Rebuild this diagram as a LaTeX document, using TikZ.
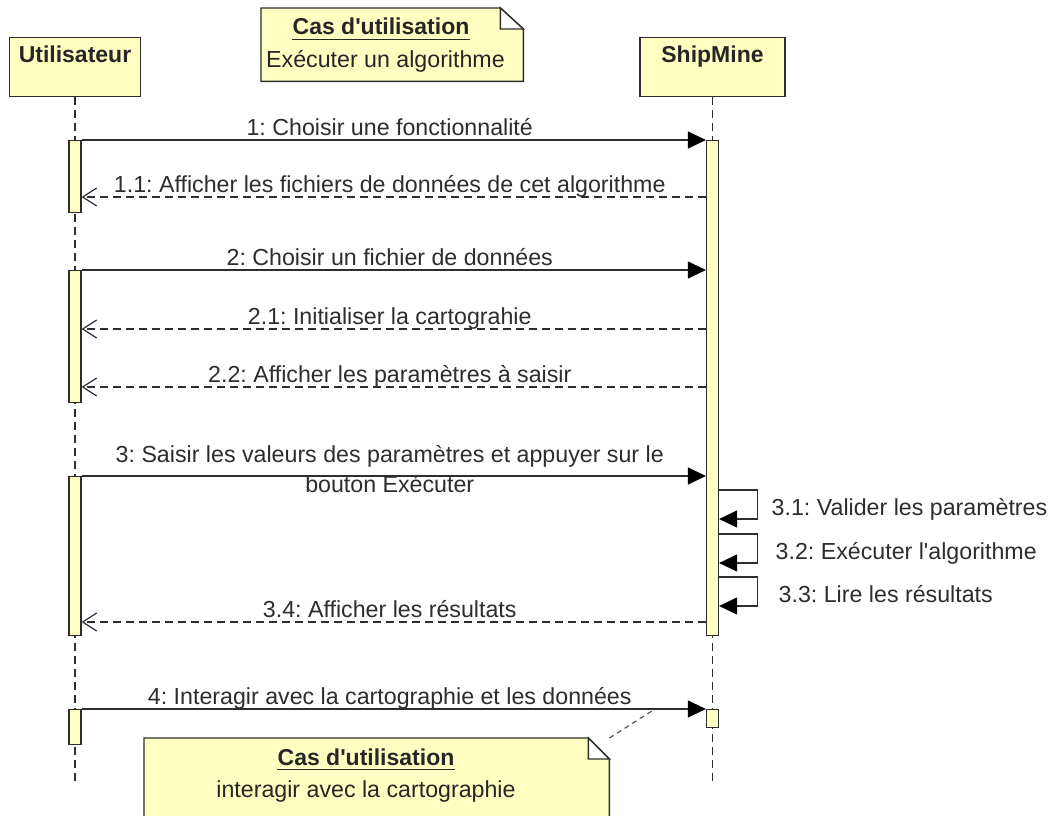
\documentclass[tikz,border=0pt]{standalone}
\usepackage{fontspec}
\setmainfont{Liberation Sans}[Ligatures=TeXOff]
\frenchspacing
\definecolor{umlyellow}{RGB}{255,255,194}
\definecolor{umlgray}{RGB}{45,45,45}
\usetikzlibrary{arrows.meta, calc}

\begin{document}
\begin{tikzpicture}[x=1pt, y=-1pt,
      font=\fontsize{23.2}{28}\selectfont, text=black!85,
      actor/.style={rectangle, draw=umlgray, line width=1.4pt, fill=umlyellow,
                    font=\fontsize{23}{28}\selectfont\bfseries,
                    minimum height=52pt, inner ysep=7pt, text height=18pt,
                    text depth=27pt, anchor=north},
      act/.style={rectangle, draw=umlgray, line width=1.2pt, fill=umlyellow,
                  minimum width=12pt, inner sep=0pt, anchor=north},
      lifeline/.style={umlgray, line width=1.2pt, dash pattern=on 8pt off 5pt},
      sync/.style={-{Triangle[length=18pt,width=17pt,color=black]}, umlgray,
                   line width=1.2pt},
      reply/.style={-{Straight Barb[length=14pt,width=18pt]}, umlgray,
                    line width=1.2pt, dash pattern=on 8pt off 5pt},
      lbl/.style={anchor=base, inner sep=0pt, yshift=5pt, xshift=-4pt},
      selflbl/.style={anchor=base west, inner sep=0pt, yshift=4pt},
      note/.style={rectangle, inner sep=0pt, anchor=north west},
      notebox/.style={draw=umlgray, line width=1.4pt, fill=umlyellow},
      notetitle/.style={anchor=base, inner sep=0pt,
                        font=\fontsize{23}{28}\selectfont\bfseries},
      notelink/.style={umlgray!80, line width=1.2pt, dash pattern=on 5pt off 4pt}
    ]
    \clip (0,0) rectangle (1055,816);
    \fill[white] (0,0) rectangle (1055,816);

    % lifelines
    \node[actor, minimum width=131pt] (usr) at (75,37)    {Utilisateur};
    \node[actor, minimum width=145pt] (shp) at (712.5,37) {ShipMine};
    \coordinate (bottom) at (0,782);
    \draw[lifeline] (usr.south) -- (usr.south |- bottom);
    \draw[lifeline] (shp.south) -- (shp.south |- bottom);

    % message rows
    \coordinate (r1)  at (0,140);
    \coordinate (r11) at (0,197);
    \coordinate (r2)  at (0,270);
    \coordinate (r21) at (0,329);
    \coordinate (r22) at (0,387);
    \coordinate (r3)  at (0,476);
    \coordinate (r31) at (0,490);
    \coordinate (r32) at (0,534);
    \coordinate (r33) at (0,577);
    \coordinate (r34) at (0,622);
    \coordinate (r4)  at (0,709);

    % activations
    \node[act, minimum height=72pt]  (usr1) at (usr.south |- r1) {};
    \node[act, minimum height=132pt] (usr2) at (usr.south |- r2) {};
    \node[act, minimum height=159pt] (usr3) at (usr.south |- r3) {};
    \node[act, minimum height=35pt]  (usr4) at (usr.south |- r4) {};
    \node[act, minimum height=495pt] (shp1) at (shp.south |- r1) {};
    \node[act, minimum height=18pt]  (shp2) at (shp.south |- r4) {};

    % messages
    \draw[sync] (usr1.north east) -- node[lbl] (l1)
      {1: Choisir une fonctionnalité} (shp1.north west);
    \draw[reply] (shp1.west |- r11) -- node[lbl] (l11)
      {1.1: Afficher les fichiers de données de cet algorithme} (usr1.east |- r11);
    \draw[sync] (usr2.north east) -- node[lbl] (l2)
      {2: Choisir un fichier de données} (shp1.west |- r2);
    \draw[reply] (shp1.west |- r21) -- node[lbl] (l21)
      {2.1: Initialiser la cartograhie} (usr2.east |- r21);
    \draw[reply] (shp1.west |- r22) -- node[lbl] (l22)
      {2.2: Afficher les paramètres à saisir} (usr2.east |- r22);
    \draw[sync] (usr3.north east)
      -- node[lbl, yshift=9pt] (l3) {3: Saisir les valeurs des paramètres et appuyer sur le}
         node[lbl, yshift=-21pt] (l3b) {bouton Exécuter} (shp1.west |- r3);

    \draw[sync] (shp1.east |- r31) -- ++(38,0) -- ++(0,29)
      node[selflbl, xshift=14pt] (l31) {3.1: Valider les paramètres} -- ++(-38,0);
    \draw[sync] (shp1.east |- r32) -- ++(38,0) -- ++(0,29)
      node[selflbl, xshift=18pt] (l32) {3.2: Exécuter l'algorithme} -- ++(-38,0);
    \draw[sync] (shp1.east |- r33) -- ++(38,0) -- ++(0,29)
      node[selflbl, xshift=21pt] (l33) {3.3: Lire les résultats} -- ++(-38,0);

    \draw[reply] (shp1.west |- r34) -- node[lbl] (l34)
      {3.4: Afficher les résultats} (usr3.east |- r34);
    \draw[sync] (usr4.north east) -- node[lbl] (l4)
      {4: Interagir avec la cartographie et les données} (shp2.north west);

    % notes
    \node[note, minimum width=262pt, minimum height=73pt] (uc1) at (261,8) {};
    \filldraw[notebox] (uc1.north west) -- ([xshift=-23pt]uc1.north east)
      -- ([yshift=-21pt]uc1.north east) -- (uc1.south east) -- (uc1.south west) -- cycle;
    \filldraw[notebox, fill=white] ([xshift=-23pt]uc1.north east)
      -- ([xshift=-23pt,yshift=-21pt]uc1.north east) -- ([yshift=-21pt]uc1.north east) -- cycle;
    \node[notetitle] (uc1t) at (381,35) {Cas d'utilisation};
    \draw[line width=1.3pt, black!85] ([yshift=-4.5pt]uc1t.base west) -- ([yshift=-4.5pt]uc1t.base east);
    \node[anchor=base west, inner sep=0pt] (uc1b) at (266,67) {Exécuter un algorithme};

    \node[note, minimum width=465pt, minimum height=100pt] (uc2) at (144,738) {};
    \filldraw[notebox] (uc2.north west) -- ([xshift=-21pt]uc2.north east)
      -- ([yshift=-21pt]uc2.north east) -- (uc2.south east) -- (uc2.south west) -- cycle;
    \filldraw[notebox, fill=white] ([xshift=-21pt]uc2.north east)
      -- ([xshift=-21pt,yshift=-21pt]uc2.north east) -- ([yshift=-21pt]uc2.north east) -- cycle;
    \node[notetitle] (uc2t) at (366,765) {Cas d'utilisation};
    \draw[line width=1.3pt, black!85] ([yshift=-4.5pt]uc2t.base west) -- ([yshift=-4.5pt]uc2t.base east);
    \node[anchor=base, inner sep=0pt] (uc2b) at (366,797) {interagir avec la cartographie};

    \coordinate (a4) at (655,709);
    \draw[notelink] (uc2.north east) -- (a4);
\end{tikzpicture}
\end{document}
